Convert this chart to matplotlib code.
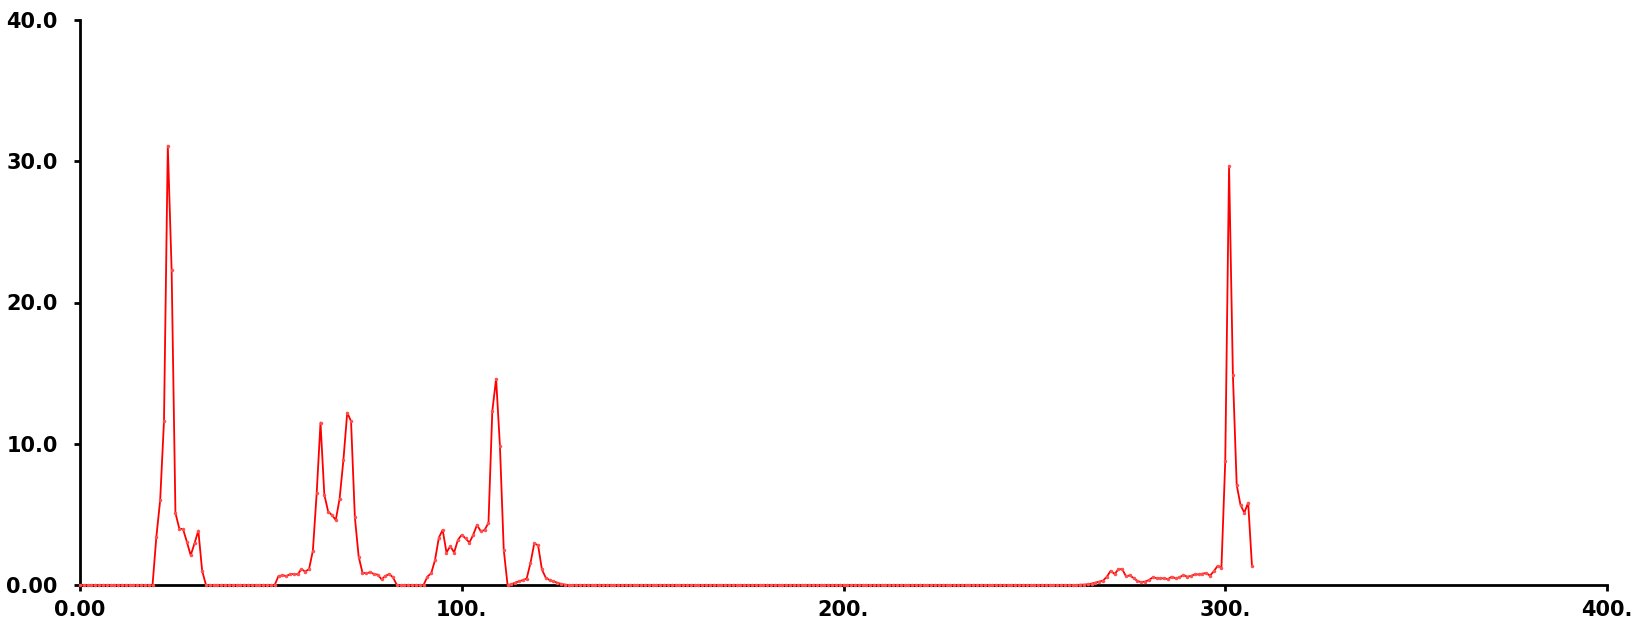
import matplotlib
matplotlib.use("Agg")
import matplotlib.pyplot as plt
import numpy as np

x_ticks = [0, 100, 200, 300, 400]
x_ticklabels = ["0.00", "100.", "200.", "300.", "400."]
y_ticks = [0, 10, 20, 30, 40]
y_ticklabels = ["0.00", "10.0", "20.0", "30.0", "40.0"]

y_values = [
    0, 0, 0, 0, 0, 0, 0, 0, 0, 0,
    0, 0, 0, 0, 0, 0, 0, 0, 0, 0,
    3.4, 6.0, 11.6, 31.1, 22.3, 5.1, 4.0, 3.95, 3.05, 2.1,
    2.95, 3.85, 1.0, 0, 0, 0, 0, 0, 0, 0,
    0, 0, 0, 0, 0, 0, 0, 0, 0, 0,
    0, 0, 0.64, 0.68, 0.64, 0.75, 0.78, 0.75, 1.13, 0.94,
    1.13, 2.43, 6.5, 11.5, 6.4, 5.2, 4.95, 4.6, 6.1, 8.85,
    12.2, 11.6, 4.8, 2.0, 0.87, 0.83, 0.9, 0.78, 0.73, 0.4,
    0.64, 0.78, 0.54, 0, 0, 0, 0, 0, 0, 0,
    0, 0.59, 0.83, 1.77, 3.35, 3.9, 2.3, 2.75, 2.3, 3.2,
    3.55, 3.3, 3.0, 3.55, 4.25, 3.8, 3.9, 4.4, 12.3, 14.6,
    9.85, 2.5, 0, 0.05, 0.17, 0.26, 0.35, 0.45, 1.55, 2.95,
    2.8, 1.1, 0.52, 0.35, 0.26, 0.17, 0.08, 0.03, 0, 0,
    0, 0, 0, 0, 0, 0, 0, 0, 0, 0,
    0, 0, 0, 0, 0, 0, 0, 0, 0, 0,
    0, 0, 0, 0, 0, 0, 0, 0, 0, 0,
    0, 0, 0, 0, 0, 0, 0, 0, 0, 0,
    0, 0, 0, 0, 0, 0, 0, 0, 0, 0,
    0, 0, 0, 0, 0, 0, 0, 0, 0, 0,
    0, 0, 0, 0, 0, 0, 0, 0, 0, 0,
    0, 0, 0, 0, 0, 0, 0, 0, 0, 0,
    0, 0, 0, 0, 0, 0, 0, 0, 0, 0,
    0, 0, 0, 0, 0, 0, 0, 0, 0, 0,
    0, 0, 0, 0, 0, 0, 0, 0, 0, 0,
    0, 0, 0, 0, 0, 0, 0, 0, 0, 0,
    0, 0, 0, 0, 0, 0, 0, 0, 0, 0,
    0, 0, 0.02, 0.03, 0.05, 0.1, 0.17, 0.24, 0.31, 0.59,
    1.01, 0.78, 1.1, 1.13, 0.61, 0.68, 0.49, 0.28, 0.21, 0.24,
    0.35, 0.54, 0.49, 0.47, 0.47, 0.42, 0.59, 0.47, 0.54, 0.71,
    0.59, 0.64, 0.75, 0.75, 0.8, 0.85, 0.66, 0.97, 1.35, 1.22,
    8.78, 29.66, 14.9, 7.08, 5.66, 5.12, 5.83, 1.35,
]
x_values = list(range(len(y_values)))

plt.rcParams['font.family'] = ['DejaVu Sans']

fig = plt.figure(figsize=(16.49, 6.24), dpi=100)
ax = fig.add_axes([80 / 1649, 39 / 624, 1527 / 1649, 565 / 624])

ax.plot(x_values, y_values, color='#ff0000', linewidth=1.3,
        marker='.', markersize=3, markerfacecolor='#ff5050',
        markeredgecolor='#ff5050', clip_on=False, zorder=5)

ax.set_xlim(0, 400)
ax.set_ylim(0, 40)
ax.set_xticks(x_ticks)
ax.set_xticklabels(x_ticklabels)
ax.set_yticks(y_ticks)
ax.set_yticklabels(y_ticklabels)

for s in ['top', 'right']:
    ax.spines[s].set_visible(False)
for s in ['left', 'bottom']:
    ax.spines[s].set_linewidth(2)
    ax.spines[s].set_color('black')

ax.tick_params(axis='both', direction='out', length=4, width=2, color='black',
               labelsize=15, labelcolor='black')
for lab in ax.get_xticklabels() + ax.get_yticklabels():
    lab.set_fontweight('bold')
ax.tick_params(axis='y', pad=12)
ax.tick_params(axis='x', pad=7)

fig.savefig('out.png', dpi=100)
